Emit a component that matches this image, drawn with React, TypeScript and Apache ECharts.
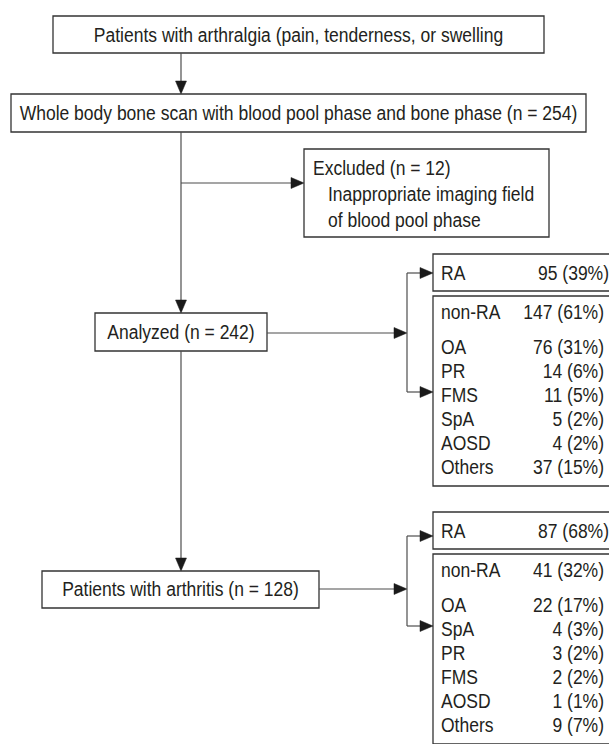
import React, { useEffect, useRef } from "react";
import * as echarts from "echarts";

// ---- content ----
const topBoxText = "Patients with arthralgia (pain, tenderness, or swelling";
const scanBoxText = "Whole body bone scan with blood pool phase and bone phase (n = 254)";
const excludedLines = ["Excluded (n = 12)", "Inappropriate imaging field", "of blood pool phase"];
const analyzedText = "Analyzed (n = 242)";
const arthritisText = "Patients with arthritis (n = 128)";

const analyzedRA = { label: "RA", n: 95, pct: 39 };
const analyzedNonRA = { label: "non-RA", n: 147, pct: 61 };
const analyzedLabels = ["OA", "PR", "FMS", "SpA", "AOSD", "Others"];
const analyzedCounts = [76, 14, 11, 5, 4, 37];
const analyzedPcts = [31, 6, 5, 2, 2, 15];

const arthritisRA = { label: "RA", n: 87, pct: 68 };
const arthritisNonRA = { label: "non-RA", n: 41, pct: 32 };
const arthritisLabels = ["OA", "SpA", "PR", "FMS", "AOSD", "Others"];
const arthritisCounts = [22, 4, 3, 2, 1, 9];
const arthritisPcts = [17, 3, 2, 2, 1, 7];

const FONT = '20px "Liberation Sans", Arial, sans-serif';
const NARROW = 0.875;
const TEXT = "#231f20";
const LINE = "#4d4d4d";
const BOX = "#333333";

function fmt(n: number, p: number) {
  return `${n} (${p}%)`;
}

function txt(x: number, y: number, text: string, align: string = "left") {
  return {
    type: "text",
    x,
    y,
    scaleX: NARROW,
    silent: true,
    style: {
      text,
      font: FONT,
      fill: TEXT,
      align,
      verticalAlign: "middle",
      textAlign: align,
      textVerticalAlign: "middle",
    },
  };
}

function box(x: number, y: number, w: number, h: number) {
  return {
    type: "rect",
    shape: { x, y, width: w, height: h },
    style: { fill: "#ffffff", stroke: BOX, lineWidth: 1.3 },
  };
}

function seg(x1: number, y1: number, x2: number, y2: number) {
  return {
    type: "line",
    shape: { x1, y1, x2, y2 },
    style: { stroke: LINE, lineWidth: 1.2 },
  };
}

function arrow(x1: number, y1: number, x2: number, y2: number) {
  const L = 13;
  const W = 5.5;
  const dx = x2 - x1;
  const dy = y2 - y1;
  const len = Math.sqrt(dx * dx + dy * dy);
  const ux = dx / len;
  const uy = dy / len;
  const bx = x2 - ux * L;
  const by = y2 - uy * L;
  return [
    seg(x1, y1, bx, by),
    {
      type: "polygon",
      shape: {
        points: [
          [x2, y2],
          [bx - uy * W, by + ux * W],
          [bx + uy * W, by - ux * W],
        ],
      },
      style: { fill: "#1a1a1a", stroke: "#1a1a1a", lineWidth: 0.5 },
    },
  ];
}

function outcomeGroup(
  top: number,
  ra: { label: string; n: number; pct: number },
  nonRa: { label: string; n: number; pct: number },
  labels: string[],
  counts: number[],
  pcts: number[],
  arrowTopY: number,
  arrowBotY: number
) {
  const bx = 433;
  const bw = 200;
  const labelX = 441;
  const valX = 604;
  const els: any[] = [];
  // RA box
  els.push(box(bx, top, bw, 37));
  els.push(txt(labelX, top + 19, ra.label));
  els.push(txt(valX + 5, top + 19, fmt(ra.n, ra.pct), "right"));
  // non-RA box
  const nTop = top + 42;
  const rowStart = nTop + 51;
  const boxBottom = rowStart + 24 * (labels.length - 1) + 19;
  els.push(box(bx, nTop, bw, boxBottom - nTop));
  els.push(txt(labelX, nTop + 16, nonRa.label));
  els.push(txt(valX, nTop + 16, fmt(nonRa.n, nonRa.pct), "right"));
  labels.forEach((lab, i) => {
    const y = rowStart + 24 * i;
    els.push(txt(labelX, y, lab));
    els.push(txt(valX, y, fmt(counts[i], pcts[i]), "right"));
  });
  // branch
  els.push(seg(407, arrowTopY, 407, arrowBotY));
  els.push(...arrow(407, arrowTopY, 433, arrowTopY));
  els.push(...arrow(407, arrowBotY, 433, arrowBotY));
  return els;
}

export default function App() {
  const ref = useRef<HTMLDivElement>(null);
  useEffect(() => {
    if (!ref.current) return;
    const chart = echarts.init(ref.current, null, { renderer: "svg" });
    const elements: any[] = [];

    // top box
    elements.push(box(53, 16, 491, 37));
    elements.push(txt(298.5, 35, topBoxText, "center"));
    elements.push(...arrow(181, 53, 181, 94));

    // scan box
    elements.push(box(11, 94, 575, 38));
    elements.push(txt(298.5, 113, scanBoxText, "center"));

    // main trunk to analyzed
    elements.push(...arrow(181, 132, 181, 313));
    elements.push(...arrow(181, 183, 304, 183));

    // excluded box
    elements.push(box(304, 149, 245, 88));
    elements.push(txt(313, 168, excludedLines[0]));
    elements.push(txt(328, 194, excludedLines[1]));
    elements.push(txt(328, 220, excludedLines[2]));

    // analyzed
    elements.push(box(95, 313, 172, 38));
    elements.push(txt(181, 332, analyzedText, "center"));
    elements.push(...arrow(267, 333, 407, 333));
    elements.push(
      ...outcomeGroup(254, analyzedRA, analyzedNonRA, analyzedLabels, analyzedCounts, analyzedPcts, 273, 392)
    );

    // arthritis
    elements.push(...arrow(181, 351, 181, 571));
    elements.push(box(42, 571, 277, 37));
    elements.push(txt(180.5, 589.5, arthritisText, "center"));
    elements.push(...arrow(319, 589, 407, 589));
    elements.push(
      ...outcomeGroup(512, arthritisRA, arthritisNonRA, arthritisLabels, arthritisCounts, arthritisPcts, 536, 626)
    );

    chart.setOption({
      animation: false,
      backgroundColor: "#ffffff",
      graphic: { elements },
    });
    return () => chart.dispose();
  }, []);
  return (
    <div
      ref={ref}
      style={{ position: "fixed", left: 0, top: 0, width: 609, height: 744, background: "#fff" }}
    />
  );
}
